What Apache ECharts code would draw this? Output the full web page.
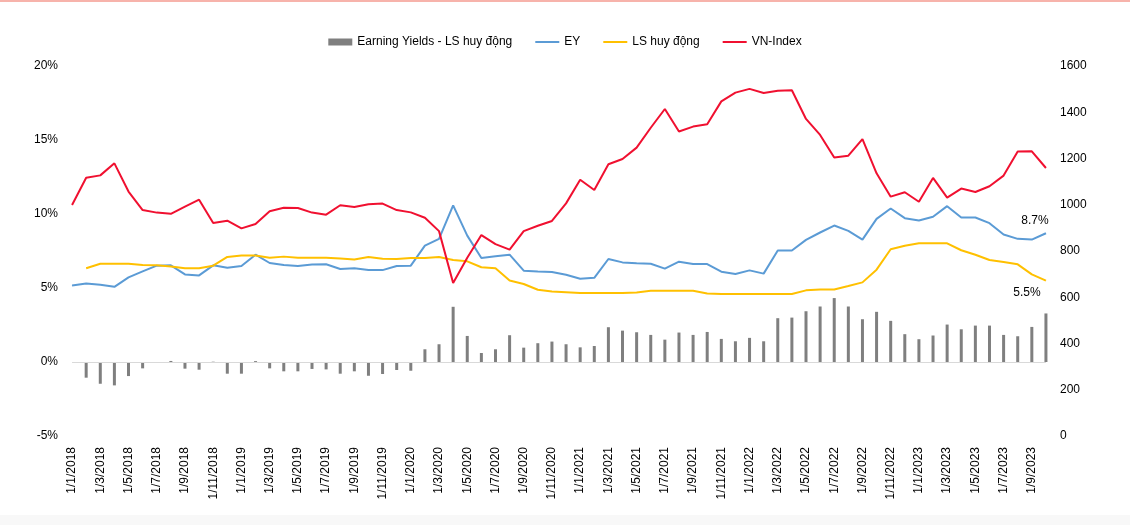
<!DOCTYPE html>
<html>
<head>
<meta charset="utf-8">
<script src="https://cdn.jsdelivr.net/npm/echarts@6/dist/echarts.min.js"></script>
<style>
  html, body { margin: 0; padding: 0; background: #ffffff; }
  #wrap { position: relative; width: 1130px; height: 525px; overflow: hidden; }
  #chart { position: absolute; left: 0; top: 0; width: 1130px; height: 525px; }
  #topline { position: absolute; left: 0; top: 0; width: 1130px; height: 2px; background: #f7b3ab; }
  #bottomband { position: absolute; left: 0; top: 515px; width: 1130px; height: 10px; background: #f8f8f8; }
</style>
</head>
<body>
<div id="wrap">
  <div id="bottomband"></div>
  <div id="chart"></div>
  <div id="topline"></div>
</div>
<script>
const categories = [
  "1/1/2018","1/2/2018","1/3/2018","1/4/2018","1/5/2018","1/6/2018","1/7/2018","1/8/2018","1/9/2018","1/10/2018","1/11/2018","1/12/2018",
  "1/1/2019","1/2/2019","1/3/2019","1/4/2019","1/5/2019","1/6/2019","1/7/2019","1/8/2019","1/9/2019","1/10/2019","1/11/2019","1/12/2019",
  "1/1/2020","1/2/2020","1/3/2020","1/4/2020","1/5/2020","1/6/2020","1/7/2020","1/8/2020","1/9/2020","1/10/2020","1/11/2020","1/12/2020",
  "1/1/2021","1/2/2021","1/3/2021","1/4/2021","1/5/2021","1/6/2021","1/7/2021","1/8/2021","1/9/2021","1/10/2021","1/11/2021","1/12/2021",
  "1/1/2022","1/2/2022","1/3/2022","1/4/2022","1/5/2022","1/6/2022","1/7/2022","1/8/2022","1/9/2022","1/10/2022","1/11/2022","1/12/2022",
  "1/1/2023","1/2/2023","1/3/2023","1/4/2023","1/5/2023","1/6/2023","1/7/2023","1/8/2023","1/9/2023","1/10/2023"
];

const spread = [null,-1.06,-1.47,-1.58,-0.95,-0.43,-0.03,0.07,-0.45,-0.52,
  0.02,-0.79,-0.79,0.06,-0.43,-0.63,-0.63,-0.47,-0.50,-0.79,
  -0.63,-0.93,-0.81,-0.54,-0.59,0.86,1.20,3.73,1.76,0.61,
  0.86,1.81,0.97,1.27,1.38,1.20,0.99,1.08,2.35,2.12,
  2.01,1.83,1.51,1.99,1.83,2.03,1.56,1.40,1.63,1.40,
  2.96,3.00,3.43,3.75,4.32,3.75,2.89,3.39,2.78,1.88,
  1.54,1.79,2.53,2.21,2.46,2.46,1.83,1.74,2.37,3.28];

const ey = [5.17,5.31,5.22,5.08,5.72,6.12,6.51,6.53,5.92,5.85,
  6.53,6.37,6.49,7.25,6.69,6.55,6.49,6.58,6.60,6.28,
  6.33,6.21,6.21,6.49,6.51,7.86,8.32,10.58,8.54,7.03,
  7.14,7.25,6.17,6.12,6.08,5.90,5.63,5.69,6.96,6.73,
  6.67,6.64,6.31,6.78,6.62,6.62,6.10,5.94,6.19,5.97,
  7.53,7.53,8.25,8.75,9.22,8.86,8.27,9.67,10.37,9.72,
  9.56,9.81,10.53,9.76,9.76,9.38,8.61,8.32,8.27,8.70];

const lsHuyDong = [null,6.33,6.64,6.64,6.64,6.55,6.53,6.46,6.33,6.33,
  6.51,7.10,7.19,7.19,7.05,7.12,7.05,7.05,7.05,7.00,
  6.92,7.10,6.98,6.96,7.03,7.03,7.10,6.89,6.80,6.40,
  6.33,5.51,5.27,4.88,4.77,4.72,4.66,4.66,4.66,4.66,
  4.70,4.81,4.81,4.81,4.81,4.63,4.59,4.59,4.59,4.59,
  4.59,4.59,4.84,4.90,4.90,5.13,5.38,6.24,7.62,7.86,
  8.02,8.02,8.02,7.55,7.25,6.89,6.76,6.60,5.92,5.50];

const vnIndex = [999,1117,1127,1179,1057,977,966,961,992,1022,
  921,931,898,917,972,987,986,966,957,998,
  990,1002,1005,977,967,944,886,662,771,869,
  830,806,886,909,930,1006,1108,1064,1175,1198,
  1247,1333,1414,1317,1338,1348,1447,1485,1501,1483,
  1493,1495,1371,1302,1204,1212,1284,1136,1035,1054,
  1013,1116,1031,1070,1055,1080,1126,1230,1231,1159];

const leftTicks = { min: -5, max: 20, interval: 5 };
const rightTicks = { min: 0, max: 1600, interval: 200 };

const FONT = "'Liberation Sans', Arial, sans-serif";
const last = categories.length - 1;
const lastLabel = p => p.dataIndex === last ? Number(p.value).toFixed(1) + '%' : '';

const chart = echarts.init(document.getElementById('chart'), null, { renderer: 'canvas' });
chart.setOption({
  animation: false,
  backgroundColor: 'transparent',
  textStyle: { fontFamily: FONT },
  legend: {
    top: 31,
    left: 'center',
    itemGap: 22,
    itemWidth: 24,
    itemHeight: 7,
    textStyle: { fontFamily: FONT, fontSize: 12, color: '#000' },
    data: [
      { name: 'Earning Yields - LS huy động', icon: 'rect' },
      { name: 'EY', itemStyle: { opacity: 0 } },
      { name: 'LS huy động', itemStyle: { opacity: 0 } },
      { name: 'VN-Index', itemStyle: { opacity: 0 } }
    ]
  },
  grid: { left: 65, right: 77, top: 66, bottom: 89 },
  xAxis: {
    type: 'category',
    data: categories,
    boundaryGap: true,
    axisLine: { show: false, onZero: false },
    axisTick: { show: false },
    axisLabel: {
      interval: 1,
      rotate: 90,
      margin: 11,
      fontSize: 12,
      fontFamily: FONT,
      color: '#000'
    },
    splitLine: { show: false }
  },
  yAxis: [
    {
      type: 'value',
      min: leftTicks.min, max: leftTicks.max, interval: leftTicks.interval,
      axisLine: { show: false },
      axisTick: { show: false },
      splitLine: { show: false },
      axisLabel: { formatter: '{value}%', margin: 7, fontSize: 12, fontFamily: FONT, color: '#000' }
    },
    {
      type: 'value',
      min: rightTicks.min, max: rightTicks.max, interval: rightTicks.interval,
      axisLine: { show: false },
      axisTick: { show: false },
      splitLine: { show: false },
      axisLabel: { formatter: v => String(v), margin: 7, fontSize: 12, fontFamily: FONT, color: '#000' }
    }
  ],
  series: [
    {
      name: 'Earning Yields - LS huy động',
      type: 'bar',
      yAxisIndex: 0,
      data: spread,
      barWidth: 3,
      itemStyle: { color: '#7f7f7f' },
      markLine: {
        silent: true,
        symbol: ['none', 'none'],
        label: { show: false },
        lineStyle: { color: '#d9d9d9', width: 1, type: 'solid' },
        data: [[{ xAxis: 0, yAxis: 0 }, { xAxis: last, yAxis: 0 }]]
      }
    },
    {
      name: 'EY',
      type: 'line',
      yAxisIndex: 0,
      data: ey,
      symbol: 'circle',
      symbolSize: 0.5,
      showSymbol: true,
      lineStyle: { color: '#5b9bd5', width: 2 },
      itemStyle: { color: '#5b9bd5' },
      label: {
        show: true,
        position: 'top',
        offset: [-11, -1],
        fontSize: 12, fontFamily: FONT, color: '#000',
        formatter: lastLabel
      }
    },
    {
      name: 'LS huy động',
      type: 'line',
      yAxisIndex: 0,
      data: lsHuyDong,
      symbol: 'circle',
      symbolSize: 0.5,
      showSymbol: true,
      lineStyle: { color: '#ffc000', width: 2 },
      itemStyle: { color: '#ffc000' },
      label: {
        show: true,
        position: 'bottom',
        offset: [-19, 1],
        fontSize: 12, fontFamily: FONT, color: '#000',
        formatter: lastLabel
      }
    },
    {
      name: 'VN-Index',
      type: 'line',
      yAxisIndex: 1,
      data: vnIndex,
      symbol: 'none',
      lineStyle: { color: '#f01030', width: 2 },
      itemStyle: { color: '#f01030' }
    }
  ]
});
</script>
</body>
</html>
